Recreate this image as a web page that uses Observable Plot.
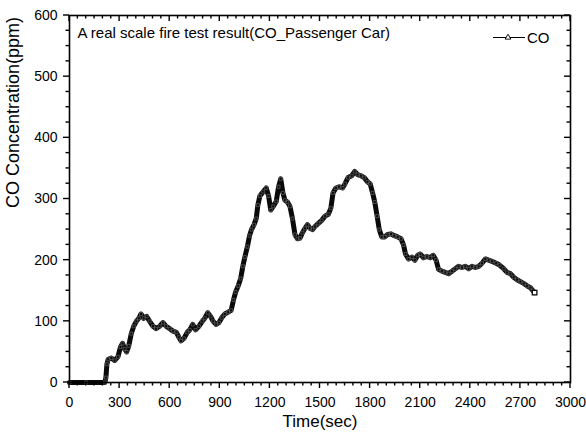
<!DOCTYPE html>
<html>
<head>
<meta charset="utf-8">
<script src="https://cdn.jsdelivr.net/npm/d3@7"></script>
<script src="https://cdn.jsdelivr.net/npm/@observablehq/plot@0.6"></script>
<style>
  html, body { margin: 0; padding: 0; background: #fff; }
  #chart svg text { font-family: 'Liberation Sans', Arial, sans-serif; }
</style>
</head>
<body>
<div id="chart"></div>
<script>
// ---- data ----
const timeSec = [0,100,212,218,224,232,250,270,290,305,318,330,342,355,370,385,400,415,428,445,462,480,500,518,540,560,578,600,620,640,655,668,685,705,720,738,755,775,795,810,828,845,860,878,895,912,930,950,968,982,995,1010,1025,1038,1050,1065,1078,1090,1105,1118,1128,1140,1160,1178,1192,1205,1220,1238,1252,1265,1278,1290,1305,1320,1335,1350,1365,1380,1395,1410,1425,1440,1455,1470,1490,1510,1530,1550,1565,1578,1595,1615,1635,1650,1668,1690,1708,1725,1745,1765,1785,1800,1815,1828,1842,1855,1870,1888,1905,1925,1945,1965,1985,2000,2012,2030,2050,2068,2085,2100,2120,2140,2160,2178,2195,2210,2230,2250,2270,2290,2310,2330,2350,2370,2390,2410,2430,2450,2470,2490,2510,2530,2555,2575,2600,2620,2640,2660,2680,2700,2720,2740,2760,2775,2785];
const coPpm = [0,0,0,8,30,38,40,36,42,58,64,55,50,60,80,92,100,105,112,105,108,100,92,88,92,98,92,88,84,82,74,68,72,82,86,95,86,92,100,105,114,108,100,95,98,106,112,115,118,135,148,158,170,190,205,222,240,250,258,268,290,305,312,318,305,282,288,296,320,333,310,298,295,288,268,242,235,236,245,252,258,252,250,255,260,265,272,275,285,310,318,320,318,325,335,338,345,340,338,335,328,325,310,295,272,250,238,238,242,243,240,238,235,225,210,202,205,200,208,210,204,206,204,208,200,185,182,180,178,182,186,190,188,190,186,190,188,190,195,202,200,198,195,192,186,180,178,172,168,165,162,158,155,150,147];
const xTicks = [0,300,600,900,1200,1500,1800,2100,2400,2700,3000];
const yTicks = [0,100,200,300,400,500,600];
const xMinor = d3.range(0, 3001, 50).filter(v => v % 300 !== 0);
const yMinor = d3.range(0, 601, 25).filter(v => v % 100 !== 0);
const seriesName = "CO";
const chartTitle = "A real scale fire test result(CO_Passenger Car)";
const xLabel = "Time(sec)";
const yLabel = "CO Concentration(ppm)";

const data = timeSec.map((t, i) => ({t, co: coPpm[i]}));
const last = [data[data.length - 1]];

// ---- layout ----
const W = 586, H = 438, mL = 69, mR = 16, mT = 15, mB = 56;
const major = 6, minor = 3.5, tw = 1.4;
const FONT = "'Liberation Sans', Arial, sans-serif";

const chart = Plot.plot({
  width: W, height: H,
  marginLeft: mL, marginRight: mR, marginTop: mT, marginBottom: mB,
  x: {domain: [0, 3000]},
  y: {domain: [0, 600]},
  marks: [
    Plot.axisX(xTicks, {tickSize: 0, tickPadding: 15, fontSize: 14, label: null, tickFormat: d => String(d), fill: "black"}),
    Plot.axisY(yTicks, {tickSize: 0, tickPadding: 12, fontSize: 14, label: null, tickFormat: d => String(d), fill: "black"}),
    // data band
    Plot.line(data, {x: "t", y: "co", stroke: "#0a0a0a", strokeWidth: 5, strokeLinejoin: "round", strokeLinecap: "round"}),
    Plot.dot(data, {x: "t", y: "co", symbol: "square", r: 1.7, stroke: "#666", strokeWidth: 0.7, fill: "none"}),
    Plot.dot(last, {x: "t", y: "co", symbol: "square", r: 2.6, stroke: "black", strokeWidth: 1.2, fill: "white"}),
    Plot.frame({stroke: "black", strokeWidth: 1.6}),
    // texts
    Plot.text([chartTitle], {frameAnchor: "top-left", dx: 8, dy: 12, textAnchor: "start", lineAnchor: "top", fontSize: 15, fill: "black"}),
    Plot.text([xLabel], {frameAnchor: "bottom", dy: 44, fontSize: 17, fill: "black"}),
    Plot.text([yLabel], {frameAnchor: "left", rotate: -90, dx: -56, dy: 9, fontSize: 18, fill: "black"})
  ]
});

// tick marks as filled rects placed with the plot's own scales
// bottom/left point outward, top/right point inward
const sx = chart.scale("x"), sy = chart.scale("y");
const svg = d3.select(chart);
const [xa, xb] = sx.range;
const [yBottom, yTop] = sy.range;
const tg = svg.append("g").attr("fill", "black");
function box(x, y, w, h) {
  tg.append("rect").attr("x", x).attr("y", y).attr("width", w).attr("height", h).attr("fill", "black");
}
function vtick(v, len) {
  const px = sx.apply(v) - tw / 2;
  box(px, yBottom, tw, len);
  box(px, yTop, tw, len);
}
function htick(v, len) {
  const py = sy.apply(v) - tw / 2;
  box(xa - len, py, len, tw);
  box(xb - len, py, len, tw);
}
xTicks.forEach(v => vtick(v, major));
xMinor.forEach(v => vtick(v, minor));
yTicks.forEach(v => htick(v, major));
yMinor.forEach(v => htick(v, minor));

// legend (top-right, inside frame)
const lg = svg.append("g").attr("transform", `translate(${xb - 77},${yTop + 22.5})`);
lg.append("line").attr("x1", 0).attr("x2", 32).attr("y1", 0).attr("y2", 0).attr("stroke", "black").attr("stroke-width", 1);
lg.append("path").attr("d", d3.symbol(d3.symbolTriangle, 14)()).attr("transform", "translate(15,0)")
  .attr("fill", "white").attr("stroke", "black").attr("stroke-width", 0.9);
lg.append("text").attr("x", 34).attr("y", 5.5).attr("font-size", 15).attr("fill", "black")
  .attr("text-anchor", "start").attr("font-family", FONT).text(seriesName);

document.getElementById("chart").appendChild(chart);
</script>
</body>
</html>
